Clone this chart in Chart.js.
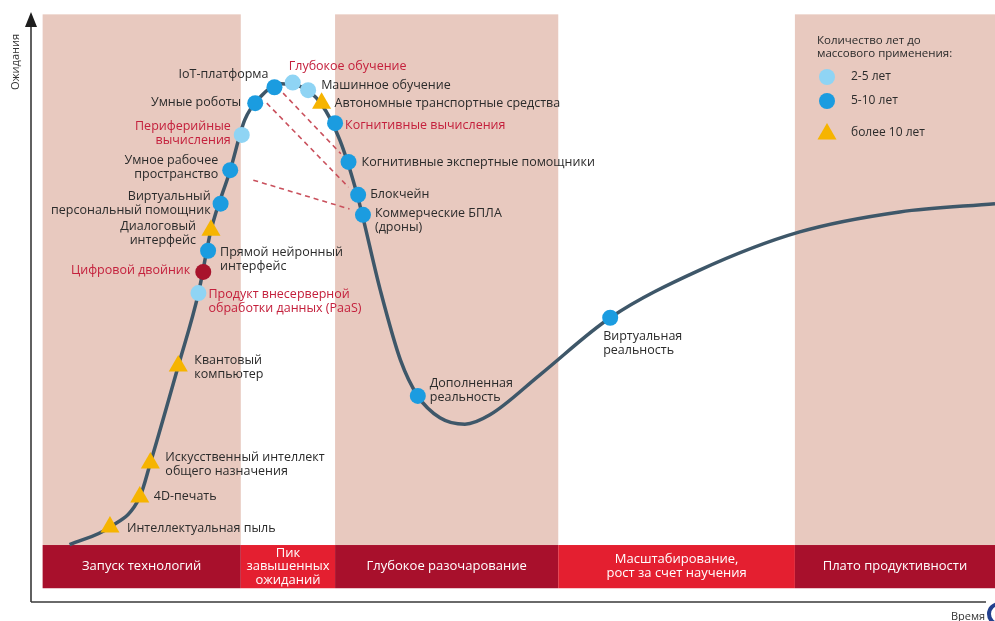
<!DOCTYPE html>
<html lang="ru">
<head>
<meta charset="utf-8">
<title>Цикл зрелости технологий</title>
<script src="https://cdn.jsdelivr.net/npm/chart.js@4.4.0/dist/chart.umd.min.js"></script>
<style>
  html, body { margin: 0; padding: 0; background: #fff; }
  #wrap { width: 995px; height: 621px; }
</style>
</head>
<body>
<div id="wrap"><canvas id="hype" width="995" height="621"></canvas></div>
<script>
// Данные (ось X - время, ось Y - ожидания, обе в условных единицах 0..100)
const techNames = [
  "Интеллектуальная пыль",
  "4D-печать",
  "Искусственный интеллект\nобщего назначения",
  "Квантовый\nкомпьютер",
  "Продукт внесерверной\nобработки данных (PaaS)",
  "Цифровой двойник",
  "Прямой нейронный\nинтерфейс",
  "Диалоговый\nинтерфейс",
  "Виртуальный\nперсональный помощник",
  "Умное рабочее\nпространство",
  "Периферийные\nвычисления",
  "Умные роботы",
  "IoT-платформа",
  "Глубокое обучение",
  "Машинное обучение",
  "Автономные транспортные средства",
  "Когнитивные вычисления",
  "Когнитивные экспертные помощники",
  "Блокчейн",
  "Коммерческие БПЛА\n(дроны)",
  "Дополненная\nреальность",
  "Виртуальная\nреальность"
];
const techX = [8.0, 11.1, 12.2, 15.1, 17.2, 17.7, 18.2, 18.5, 19.5, 20.5, 21.7, 23.1, 25.1, 27.0, 28.6, 30.0, 31.4, 32.8, 33.8, 34.3, 40.0, 60.0];
const techY = [12.4, 17.5, 23.3, 39.8, 52.2, 55.8, 59.4, 62.9, 67.4, 73.1, 79.1, 84.5, 87.2, 88.0, 86.7, 84.5, 81.1, 74.5, 68.9, 65.5, 34.7, 48.0];
// годы до массового применения: "2-5", "5-10", "10+", "twin" (вне легенды)
const techGroup = ["10+", "10+", "10+", "10+", "2-5", "twin", "5-10", "10+", "5-10", "5-10", "2-5",
                   "5-10", "5-10", "2-5", "2-5", "10+", "5-10", "5-10", "5-10", "5-10", "5-10", "5-10"];

// форма кривой
const curveX = [3.8, 8.0, 11.1, 12.2, 15.1, 17.2, 18.5, 20.5, 22.0, 23.6, 25.7, 27.7, 29.9, 31.9, 33.7, 36.1, 38.2, 40.0, 42.3, 44.9, 47.5, 52.7, 60.0, 69.3, 79.7, 90.1, 100];
const curveY = [9.4, 12.4, 17.5, 23.3, 39.8, 52.2, 62.9, 73.1, 81.6, 85.5, 87.8, 87.4, 84.5, 78.2, 68.9, 52.7, 40.8, 34.7, 31.0, 29.9, 31.5, 38.3, 48.0, 56.1, 62.6, 66.0, 67.4];

// пунктирные линии смещения
const shiftFrom = [[26.0, 86.2], [24.3, 84.5], [22.9, 71.4]];
const shiftTo   = [[32.0, 75.9], [32.8, 70.2], [32.9, 66.5]];

// фазы
const phaseNames = [
  ["Запуск технологий"],
  ["Пик", "завышенных", "ожиданий"],
  ["Глубокое разочарование"],
  ["Масштабирование,", "рост за счет научения"],
  ["Плато продуктивности"]
];
const phaseEdges = [1.0, 21.6, 31.4, 54.6, 79.2, 100];

const legendTitle = ["Количество лет до", "массового применения:"];
const legendItems = ["2-5 лет", "5-10 лет", "более 10 лет"];

// оформление подписей: [dx, dy, выравнивание, красный]
const labelLayout = [
  [17, 1, "left", false],
  [14, -1, "left", false],
  [15, -6, "left", false],
  [16, -6, "left", false],
  [10, 1, "left", true],
  [-13, -1, "right", true],
  [12, 2, "left", false],
  [-15, -4, "right", false],
  [-10, -7, "right", false],
  [-12, -10, "right", false],
  [-11, -8, "right", true],
  [-14, -1, "right", false],
  [-6, -13, "right", false],
  [-4, -16, "left", true],
  [13, -5, "left", false],
  [13, 0, "left", false],
  [10, 2, "left", true],
  [13, 0, "left", false],
  [12, 0, "left", false],
  [12, -1, "left", false],
  [12, -13, "left", false],
  [-7, 19, "left", false]
];

const FONT = '"Open Sans", "Noto Sans", sans-serif';
const PINK = "#e8c9bf";
const DARK_RED = "#a8102c";
const BRIGHT_RED = "#e41f30";
const CURVE = "#3e5769";
const TEXT = "#2b2b2b";
const RED_TEXT = "#c4203c";
const groupColor = { "2-5": "#8fd4f4", "5-10": "#1b9ce0", "10+": "#f6b400", "twin": "#a8142c" };

const bandTop = 99.6, barTop = 9.35, barBottom = 2.0;

const backgroundPlugin = {
  id: "phases",
  beforeDatasetsDraw(chart) {
    const { ctx, scales: { x, y } } = chart;
    const yt = y.getPixelForValue(bandTop);
    const yb = y.getPixelForValue(barTop);
    const yb2 = y.getPixelForValue(barBottom);
    ctx.save();
    for (let i = 0; i < phaseNames.length; i++) {
      const x0 = x.getPixelForValue(phaseEdges[i]);
      const x1 = x.getPixelForValue(phaseEdges[i + 1]);
      if (i % 2 === 0) {
        ctx.fillStyle = PINK;
        ctx.fillRect(x0, yt, x1 - x0, yb - yt);
      }
      ctx.fillStyle = i % 2 === 0 ? DARK_RED : BRIGHT_RED;
      ctx.fillRect(x0, yb, x1 - x0, yb2 - yb);
      ctx.fillStyle = "#fff";
      ctx.font = "500 13px " + FONT;
      ctx.textAlign = "center";
      ctx.textBaseline = "middle";
      const lines = phaseNames[i];
      const mid = (yb + yb2) / 2;
      const lh = lines.length > 2 ? 13.5 : 14;
      lines.forEach((ln, k) => {
        ctx.fillText(ln, (x0 + x1) / 2, mid + (k - (lines.length - 1) / 2) * lh);
      });
    }
    ctx.restore();
  }
};

const labelPlugin = {
  id: "techLabels",
  afterDatasetsDraw(chart) {
    const ctx = chart.ctx;
    const meta = chart.getDatasetMeta(0);
    ctx.save();
    ctx.font = "12.5px " + FONT;
    ctx.textBaseline = "middle";
    meta.data.forEach((pt, i) => {
      const [dx, dy, side, red] = labelLayout[i];
      ctx.fillStyle = red ? RED_TEXT : TEXT;
      ctx.textAlign = side;
      techNames[i].split("\n").forEach((line, k) => {
        ctx.fillText(line, pt.x + dx, pt.y + dy + k * 14);
      });
    });
    ctx.restore();
  }
};

function triangle(ctx, cx, cy, r) {
  ctx.beginPath();
  ctx.moveTo(cx, cy - r);
  ctx.lineTo(cx + r * 0.866, cy + r * 0.5);
  ctx.lineTo(cx - r * 0.866, cy + r * 0.5);
  ctx.closePath();
  ctx.fill();
}

const framePlugin = {
  id: "frame",
  afterDraw(chart) {
    const { ctx, chartArea } = chart;
    const ax = chartArea.left - 2, ay = chartArea.bottom + 2;
    ctx.save();
    // оси
    ctx.strokeStyle = "#3a3a3a";
    ctx.lineWidth = 1.6;
    ctx.beginPath();
    ctx.moveTo(ax, ay);
    ctx.lineTo(ax, 24);
    ctx.moveTo(ax, ay);
    ctx.lineTo(986, ay);
    ctx.stroke();
    ctx.fillStyle = "#1e1e1e";
    ctx.beginPath();
    ctx.moveTo(ax, 12);
    ctx.lineTo(ax - 6, 27);
    ctx.lineTo(ax + 6, 27);
    ctx.closePath();
    ctx.fill();

    ctx.fillStyle = "#333";
    ctx.font = "11px " + FONT;
    ctx.textBaseline = "middle";
    ctx.save();
    ctx.translate(16, 62);
    ctx.rotate(-Math.PI / 2);
    ctx.textAlign = "center";
    ctx.fillText("Ожидания", 0, 0);
    ctx.restore();

    ctx.textAlign = "left";
    ctx.fillText("Время", 951, 617);
    ctx.strokeStyle = "#23408e";
    ctx.lineWidth = 4;
    ctx.beginPath();
    ctx.arc(999, 614, 10, 0, Math.PI * 2);
    ctx.stroke();

    // легенда
    ctx.fillStyle = TEXT;
    ctx.font = "11.5px " + FONT;
    ctx.fillText(legendTitle[0], 817, 41);
    ctx.fillText(legendTitle[1], 817, 54);
    const iconY = [77, 101, 133];
    ctx.fillStyle = groupColor["2-5"];
    ctx.beginPath(); ctx.arc(827, iconY[0], 8, 0, Math.PI * 2); ctx.fill();
    ctx.fillStyle = groupColor["5-10"];
    ctx.beginPath(); ctx.arc(827, iconY[1], 8, 0, Math.PI * 2); ctx.fill();
    ctx.fillStyle = groupColor["10+"];
    triangle(ctx, 827, iconY[2] + 1, 11);
    ctx.fillStyle = TEXT;
    ctx.font = "12px " + FONT;
    legendItems.forEach((t, i) => ctx.fillText(t, 851, iconY[i]));
    ctx.restore();
  }
};

const techPoints = techX.map((v, i) => ({ x: v, y: techY[i] }));
const curvePoints = curveX.map((v, i) => ({ x: v, y: curveY[i] }));
const shiftSets = shiftFrom.map((p, i) => ({
  data: [{ x: p[0], y: p[1] }, { x: shiftTo[i][0], y: shiftTo[i][1] }],
  showLine: true,
  borderColor: "#c9505c",
  borderWidth: 1.6,
  borderDash: [5, 4],
  pointRadius: 0,
  order: 2
}));

new Chart(document.getElementById("hype"), {
  type: "scatter",
  data: {
    datasets: [
      {
        data: techPoints,
        order: 0,
        pointStyle: ctx => techGroup[ctx.dataIndex] === "10+" ? "triangle" : "circle",
        pointRadius: ctx => techGroup[ctx.dataIndex] === "10+" ? 11 : 8,
        pointBackgroundColor: ctx => groupColor[techGroup[ctx.dataIndex]],
        pointBorderWidth: 0,
        pointHoverRadius: ctx => techGroup[ctx.dataIndex] === "10+" ? 11 : 8
      },
      {
        data: curvePoints,
        showLine: true,
        borderColor: CURVE,
        borderWidth: 3.5,
        cubicInterpolationMode: "monotone",
        pointRadius: 0,
        order: 1
      },
      ...shiftSets
    ]
  },
  options: {
    responsive: false,
    animation: false,
    events: [],
    layout: { autoPadding: false, padding: { left: 33, top: 12, right: 0, bottom: 21 } },
    scales: {
      x: { type: "linear", min: 0, max: 100, display: false },
      y: { type: "linear", min: 0, max: 100, display: false }
    },
    plugins: { legend: { display: false }, tooltip: { enabled: false } }
  },
  plugins: [backgroundPlugin, labelPlugin, framePlugin]
});
</script>
</body>
</html>
